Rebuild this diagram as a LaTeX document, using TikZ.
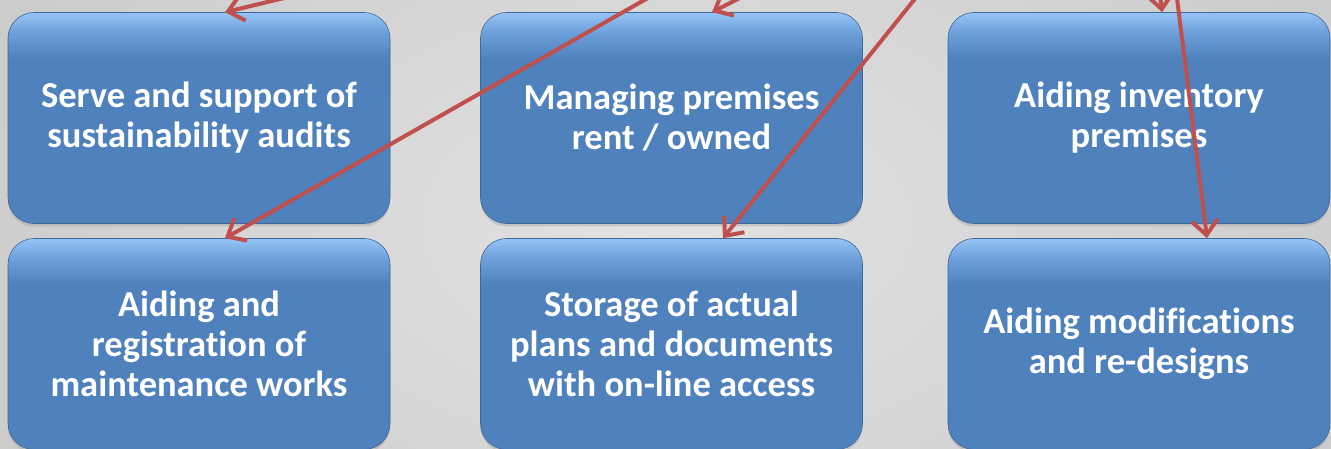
\documentclass[tikz,border=0pt]{standalone}
\usepackage{fontspec}
\setmainfont{Carlito}[Ligatures=NoCommon]
\usetikzlibrary{arrows.meta,shadows}

\definecolor{boxblue}{RGB}{79,129,189}
\definecolor{boxmid}{RGB}{108,158,218}
\definecolor{boxlight}{RGB}{150,196,246}
\definecolor{arrowred}{RGB}{192,80,77}
\definecolor{bgin}{RGB}{226,226,226}
\definecolor{bgout}{RGB}{200,200,200}

% gloss on the upper edge of each box
\pgfdeclareverticalshading{boxgloss}{100bp}{color(0bp)=(boxblue); color(25bp)=(boxblue);
  color(64bp)=(boxblue); color(70bp)=(boxmid); color(75bp)=(boxlight); color(100bp)=(boxlight)}

\tikzset{
  taskbox/.style={rounded corners=26pt, shading=boxgloss, draw=boxblue!80!black, line width=0.6pt,
    minimum width=382pt, minimum height=211pt, align=center, text=white,
    font=\fontsize{36.5}{40}\selectfont\bfseries,
    drop shadow={opacity=0.25, shadow xshift=0pt, shadow yshift=-3pt}},
  redarrow/.style={arrowred, line width=4pt,
    -{Straight Barb[length=15pt,width=26pt,line width=4pt]}}
}

\begin{document}
\begin{tikzpicture}[x=1pt,y=-1pt]
  \useasboundingbox (0,0) rectangle (1331,449);
  \clip (0,0) rectangle (1331,449);
  \shade[inner color=bgin, outer color=bgout] (-200,-300) rectangle (1531,749);

  % top row
  \node[taskbox] (audits)    at (199,118)    {Serve and support of\\sustainability audits};
  \node[taskbox] (premises)  at (671.5,118)  {Managing premises\\rent / owned};
  \node[taskbox] (inventory) at (1139,118)   {Aiding inventory\\premises};
  % bottom row
  \node[taskbox] (maint)     at (199,344)    {Aiding and\\registration of\\maintenance works};
  \node[taskbox] (storage)   at (671.5,344)  {Storage of actual\\plans and documents\\with on-line access};
  \node[taskbox] (redesign)  at (1139,344)   {Aiding modifications\\and re-designs};

  % free ends above the picture
  \coordinate (fromA) at (330,-13);
  \coordinate (fromB) at (662,-10);
  \coordinate (fromC) at (775,-20);
  \coordinate (fromD) at (922,-10);
  \coordinate (fromE) at (1156,-40);
  \coordinate (fromF) at (1176,-10);

  \draw[redarrow] (fromA) -- (audits.north -| 225,0);
  \draw[redarrow] (fromB) -- (maint.north -| 225,0);
  \draw[redarrow] (fromC) -- (premises.north -| 712,0);
  \draw[redarrow] (fromD) -- (storage.north -| 723,0);
  \draw[redarrow] (fromE) -- (inventory.north -| 1162,0);
  \draw[redarrow] (fromF) -- (redesign.north -| 1207,0);
\end{tikzpicture}
\end{document}
